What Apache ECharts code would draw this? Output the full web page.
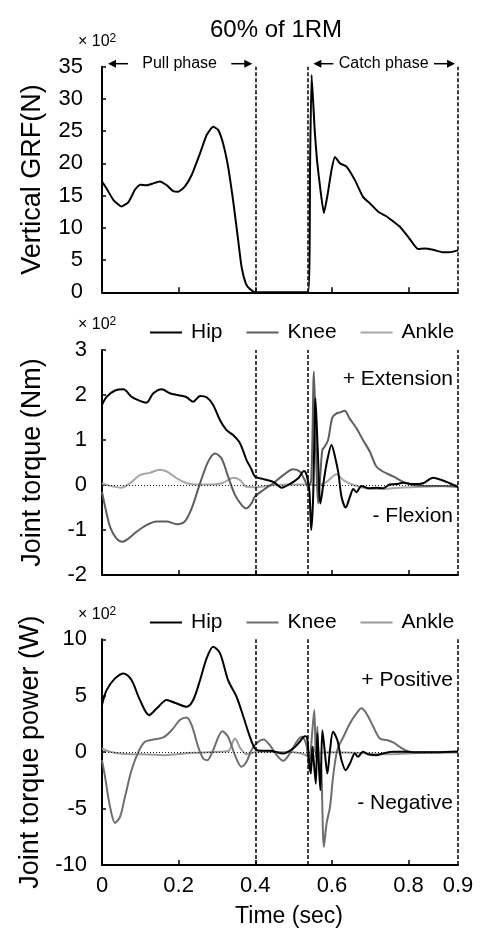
<!DOCTYPE html>
<html>
<head>
<meta charset="utf-8">
<script src="https://cdn.jsdelivr.net/npm/echarts@6/dist/echarts.min.js"></script>
<style>
html,body{margin:0;padding:0;background:#fff;}
#c{width:482px;height:929px;}
</style>
</head>
<body>
<div id="c"></div>
<script>
// ---------- DATA ----------
const titleText = '60% of 1RM';
const xTickValues = [0, 0.2, 0.4, 0.6, 0.8, 0.929];
const xTickLabels = ['0', '0.2', '0.4', '0.6', '0.8', '0.9'];
const xMax = 0.929;
const phaseLines = [0.4, 0.536, 0.928];
const pullPhase = [0, 0.4];
const catchPhase = [0.536, 0.929];

// Panel 1: vertical GRF (x100 N)
const grfT = [0,0.012,0.030,0.051,0.069,0.086,0.099,0.116,0.134,0.151,0.169,0.186,0.199,0.216,0.234,0.256,0.273,0.290,0.303,0.316,0.329,0.342,0.353,0.364,0.375,0.386,0.399,0.470,0.538,0.543,0.547,0.555,0.561,0.570,0.579,0.588,0.599,0.608,0.621,0.638,0.660,0.681,0.699,0.721,0.742,0.760,0.777,0.799,0.825,0.842,0.864,0.890,0.907,0.929];
const grfV = [17.2,16.1,14.3,13.3,14.0,15.9,16.7,16.6,16.9,17.2,16.6,15.7,15.6,16.4,18.2,21.6,24.4,25.7,25.2,23.1,19.5,14.3,9.2,4.0,1.4,0.5,0,0,0,20,33.7,25.2,20.5,15.9,12.3,14.9,19.0,21.0,20.0,19.5,17.4,14.8,13.8,12.5,11.8,11.0,10.2,8.6,6.7,6.8,6.6,6.2,6.2,6.5];

// Panel 2: joint torque (x100 Nm)
const tqHipT = [0,0.012,0.034,0.056,0.077,0.099,0.116,0.134,0.156,0.177,0.203,0.221,0.238,0.256,0.273,0.290,0.308,0.325,0.342,0.360,0.377,0.390,0.399,0.421,0.447,0.469,0.490,0.512,0.527,0.534,0.541,0.546,0.551,0.557,0.563,0.570,0.579,0.588,0.599,0.608,0.617,0.625,0.636,0.647,0.656,0.664,0.677,0.694,0.716,0.734,0.751,0.768,0.786,0.812,0.838,0.864,0.886,0.907,0.929];
const tqHipV = [1.78,1.96,2.10,2.13,1.96,1.87,1.83,2.04,2.13,2.04,1.99,1.95,1.85,1.98,1.95,1.78,1.44,1.22,1.11,0.93,0.56,0.35,0.19,0.13,0.07,-0.06,0.02,0.15,0.31,0.22,-0.11,-1.0,-0.26,1.93,0.78,-0.41,0.11,0.56,0.89,0.63,0.26,-0.26,-0.50,-0.26,-0.09,-0.16,-0.02,-0.07,-0.06,-0.07,0.01,0.02,0.05,0.02,0.04,0.16,0.11,0.04,-0.04];
const tqKneeT = [0,0.008,0.021,0.038,0.054,0.069,0.090,0.116,0.143,0.169,0.195,0.216,0.234,0.256,0.277,0.295,0.312,0.329,0.347,0.364,0.377,0.390,0.399,0.421,0.447,0.473,0.499,0.516,0.529,0.538,0.546,0.553,0.560,0.564,0.570,0.575,0.581,0.590,0.601,0.612,0.620,0.633,0.646,0.664,0.681,0.699,0.716,0.733,0.760,0.786,0.812,0.847,0.881,0.929];
const tqKneeV = [-0.15,-0.48,-0.93,-1.19,-1.26,-1.19,-1.04,-0.89,-0.81,-0.81,-0.87,-0.81,-0.52,0.04,0.52,0.70,0.59,0.19,-0.22,-0.44,-0.52,-0.41,-0.26,-0.11,0.04,0.22,0.35,0.30,0.11,-0.04,0.11,2.52,0.26,-0.41,0.26,0.78,0.85,1.0,1.50,1.59,1.61,1.65,1.48,1.26,1.0,0.74,0.41,0.30,0.19,0.07,0,-0.02,-0.02,-0.04];
const tqAnkleT = [0,0.021,0.051,0.073,0.099,0.125,0.150,0.169,0.195,0.221,0.256,0.290,0.316,0.343,0.360,0.377,0.403,0.438,0.490,0.534,0.560,0.586,0.612,0.630,0.656,0.690,0.734,0.777,0.838,0.929];
const tqAnkleV = [0.04,-0.02,-0.06,0.04,0.22,0.27,0.34,0.30,0.15,0.04,0.01,0.01,0.05,0.16,0.11,-0.04,-0.05,-0.01,0.01,0.01,0,0.07,0.24,0.11,0,-0.07,-0.09,-0.06,-0.04,-0.01];

// Panel 3: joint torque power (x100 W)
const pwHipT = [0,0.012,0.034,0.057,0.077,0.099,0.123,0.143,0.169,0.190,0.221,0.238,0.256,0.273,0.290,0.308,0.329,0.351,0.369,0.386,0.399,0.412,0.438,0.473,0.499,0.516,0.529,0.535,0.541,0.545,0.549,0.553,0.558,0.562,0.567,0.570,0.575,0.581,0.588,0.595,0.603,0.614,0.625,0.636,0.647,0.660,0.668,0.681,0.694,0.716,0.733,0.760,0.786,0.820,0.872,0.929];
const pwHipV = [4.17,5.5,6.54,6.98,6.39,4.62,3.28,3.88,4.62,4.38,4.02,4.62,6.39,8.31,9.35,8.76,6.39,4.91,3.14,1.36,0.33,0.12,0.12,-0.12,0.33,0.92,1.42,1.36,-1.0,-1.9,0.47,-1.0,-2.8,1.66,-1.9,-3.37,1.95,0.18,-1.9,0.18,1.80,1.07,-0.71,-1.6,-1.0,-0.12,-0.41,0.03,-0.18,-0.27,-0.12,0.03,0.03,0,0,0.06];
const pwKneeT = [0,0.008,0.021,0.034,0.047,0.060,0.077,0.095,0.112,0.134,0.160,0.182,0.203,0.221,0.234,0.251,0.264,0.275,0.290,0.314,0.329,0.347,0.364,0.377,0.390,0.403,0.421,0.438,0.456,0.473,0.490,0.508,0.521,0.529,0.535,0.541,0.547,0.554,0.558,0.562,0.567,0.571,0.579,0.586,0.595,0.603,0.614,0.630,0.647,0.664,0.677,0.690,0.708,0.725,0.743,0.760,0.777,0.795,0.812,0.873,0.929];
const pwKneeV = [-0.71,-2.19,-4.85,-6.27,-5.74,-3.96,-1.6,0.03,0.92,1.12,1.30,1.95,2.84,3.08,2.40,0.47,-0.56,-0.71,0.18,1.86,1.36,-0.27,-1.30,-0.86,0.18,0.77,1.12,0.62,-0.27,-0.77,-0.12,0.92,1.36,1.07,0.33,-1.6,1.07,3.73,-0.41,2.25,-1.6,-1.0,-8.4,-6.33,-4.85,-2.19,0.18,1.36,2.54,3.43,3.88,3.43,2.25,1.21,1.07,0.86,0.47,0.12,0,0,0];
const pwAnkleT = [0,0.021,0.047,0.082,0.125,0.160,0.195,0.238,0.282,0.316,0.330,0.347,0.362,0.377,0.390,0.403,0.450,0.500,0.538,0.544,0.551,0.560,0.600,0.650,0.700,0.750,0.800,0.860,0.929];
const pwAnkleV = [0.33,0.03,-0.12,-0.18,-0.21,-0.27,-0.18,-0.06,0,0.06,0.1,1.2,0.3,-0.18,-0.1,0.03,0.02,0,-0.41,-1.6,0.47,-0.06,0,-0.05,-0.12,-0.18,-0.12,-0.05,0];

// Axis ranges
const yRanges = [
  {min: 0, max: 35, interval: 5},
  {min: -2, max: 3, interval: 1},
  {min: -10, max: 10, interval: 5}
];
const yNames = ['Vertical GRF(N)', 'Joint torque (Nm)', 'Joint torque power (W)'];
const seriesNames = ['Hip', 'Knee', 'Ankle'];
const annotations = [
  {panel: 1, text: '+ Extension', value: 2.35},
  {panel: 1, text: '- Flexion', value: -0.7},
  {panel: 2, text: '+ Positive', value: 6.4},
  {panel: 2, text: '- Negative', value: -4.5}
];

// ---------- CHART ----------
const FONT = '"Liberation Sans", Arial, sans-serif';
const zip = (t, v) => t.map((x, i) => [x, v[i]]);
const grids = [
  {left: 102, right: 24, top: 66.7, height: 225.6},
  {left: 102, right: 24, top: 350, height: 225},
  {left: 102, right: 24, top: 639.3, height: 225.7}
];
const colors2 = {Hip: '#000000', Knee: '#5e5e5e', Ankle: '#a6a6a6'};
const colors3 = {Hip: '#000000', Knee: '#6e6e6e', Ankle: '#9a9a9a'};

const xAxes = grids.map((g, i) => ({
  type: 'value', gridIndex: i, min: 0, max: xMax, interval: 0.2,
  axisLine: {show: true, onZero: false, lineStyle: {color: '#000', width: 2}},
  axisTick: {show: true, inside: true, length: 5, customValues: xTickValues.slice(1, 5), lineStyle: {color: '#000', width: 1.5}},
  axisLabel: {
    show: i === 2, customValues: xTickValues, margin: 10, color: '#000', fontSize: 22, fontFamily: FONT,
    formatter: (v) => { const k = xTickValues.findIndex(x => Math.abs(x - v) < 1e-6); return k >= 0 ? xTickLabels[k] : ''; }
  },
  splitLine: {show: false},
  name: i === 2 ? 'Time (sec)' : '',
  nameLocation: 'middle', nameGap: 40,
  nameTextStyle: {color: '#000', fontSize: 23, fontFamily: FONT, padding: [0, 0, 0, 18]}
}));
const yAxes = grids.map((g, i) => ({
  type: 'value', gridIndex: i, min: yRanges[i].min, max: yRanges[i].max, interval: yRanges[i].interval,
  axisLine: {show: true, onZero: false, lineStyle: {color: '#000', width: 2}},
  axisTick: {show: true, inside: true, length: 4, lineStyle: {color: '#000', width: 1.5}},
  axisLabel: {color: '#000', fontSize: 22, fontFamily: FONT, margin: i === 0 ? 19 : 15},
  splitLine: {show: false},
  name: yNames[i], nameLocation: 'middle', nameGap: 56,
  nameTextStyle: {color: '#000', fontSize: 27, fontFamily: FONT}
}));

const markLinesFor = (i, withZeroLine) => {
  const r = yRanges[i];
  const data = phaseLines.map(x => [{coord: [x, r.min]}, {coord: [x, r.max]}]);
  if (withZeroLine) data.push([{coord: [0, 0], lineStyle: {type: [1, 2], color: '#222', width: 1}}, {coord: [xMax, 0]}]);
  return {
    silent: true, symbol: ['none', 'none'], label: {show: false},
    lineStyle: {type: [4, 2], color: '#000', width: 1.5},
    emphasis: {disabled: true}, data
  };
};
const mk = (name, data, xi, color, extra) => Object.assign({
  type: 'line', name, data, xAxisIndex: xi, yAxisIndex: xi, symbol: 'none', smooth: 0.3,
  lineStyle: {color, width: 2}, itemStyle: {color}, z: 3
}, extra || {});

const series = [
  mk('GRF', zip(grfT, grfV), 0, '#000', {smooth: 0.15, clip: false, markLine: markLinesFor(0, false)}),
  mk('Ankle', zip(tqAnkleT, tqAnkleV), 1, colors2.Ankle, {clip: false, markLine: markLinesFor(1, true)}),
  mk('Knee', zip(tqKneeT, tqKneeV), 1, colors2.Knee),
  mk('Hip', zip(tqHipT, tqHipV), 1, colors2.Hip),
  mk('Ankle', zip(pwAnkleT, pwAnkleV), 2, colors3.Ankle, {clip: false, markLine: markLinesFor(2, true)}),
  mk('Knee', zip(pwKneeT, pwKneeV), 2, colors3.Knee),
  mk('Hip', zip(pwHipT, pwHipV), 2, colors3.Hip)
];

const legendBase = (top, cols) => ({
  left: 150, top, padding: 0, itemWidth: 32, itemHeight: 14, itemGap: 24,
  selectedMode: false,
  textStyle: {color: '#000', fontSize: 21, fontFamily: FONT, padding: [0, 0, 0, 4]},
  data: seriesNames.map(n => ({name: n, icon: 'path://M0,0L32,0L32,2L0,2Z', itemStyle: {color: cols[n]}, lineStyle: {color: cols[n], width: 2}}))
});

const chart = echarts.init(document.getElementById('c'), null, {renderer: 'canvas'});
chart.setOption({
  animation: false,
  backgroundColor: '#fff',
  title: {text: titleText, left: 210, top: 18, padding: 0, textStyle: {color: '#000', fontSize: 24, fontWeight: 'normal', fontFamily: FONT}},
  legend: [legendBase(322, colors2), legendBase(612, colors3)],
  grid: grids, xAxis: xAxes, yAxis: yAxes, series
});

// annotations placed through the chart's own scales
function px(gi, x, y) { return chart.convertToPixel({gridIndex: gi}, [x, y]); }
const g = [];
function arrow(xTail, xTip, y) {
  const dir = xTip > xTail ? 1 : -1;
  g.push({type: 'line', silent: true, shape: {x1: xTail, y1: y, x2: xTip - dir * 6, y2: y}, style: {stroke: '#000', lineWidth: 1.5}});
  g.push({type: 'polygon', silent: true, shape: {points: [[xTip, y], [xTip - dir * 8, y - 4], [xTip - dir * 8, y + 4]]}, style: {fill: '#000'}});
}
[pullPhase, catchPhase].forEach((ph, k) => {
  const a = px(0, ph[0], 35), b = px(0, ph[1], 35);
  const y = a[1] - 3;
  arrow(a[0] + 26, a[0] + 6, y);
  arrow(b[0] - 24, b[0] - 3, y);
  g.push({type: 'text', silent: true, style: {x: (a[0] + b[0]) / 2 + 1, y, text: k === 0 ? 'Pull phase' : 'Catch phase', align: 'center', verticalAlign: 'middle', fill: '#000', font: '16px ' + FONT}});
});
annotations.forEach(an => {
  const p = px(an.panel, xMax, an.value);
  g.push({type: 'text', silent: true, style: {x: p[0] - 5, y: p[1], text: an.text, align: 'right', verticalAlign: 'middle', fill: '#000', font: '21px ' + FONT}});
});
[0, 1, 2].forEach(i => {
  const p = px(i, 0, yRanges[i].max);
  g.push({type: 'text', silent: true, style: {x: p[0] - 24, y: p[1] - 25, text: '× 10{s|2}', align: 'left', verticalAlign: 'middle', fill: '#000', font: '16px ' + FONT,
    rich: {s: {fontSize: 12, fontFamily: FONT, fill: '#000', verticalAlign: 'top', padding: [0, 0, 6, 0]}}}});
});
chart.setOption({graphic: g});
</script>
</body>
</html>
